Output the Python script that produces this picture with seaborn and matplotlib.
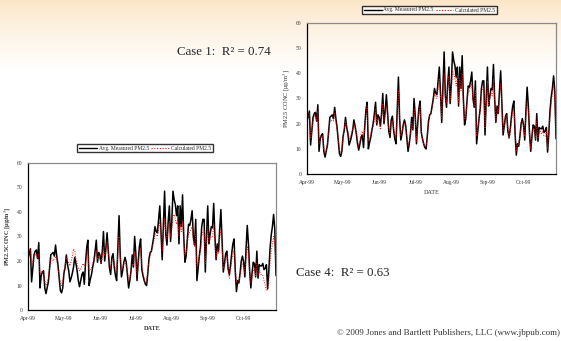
"""
Measured vs calculated PM2.5, two model cases, Apr-Oct 1999.
"""
import numpy as np
import pandas as pd
import matplotlib
matplotlib.use("Agg")
import matplotlib.pyplot as plt
import seaborn as sns
from matplotlib.lines import Line2D

sns.set_theme(style="white")
plt.rcParams["font.family"] = ["Liberation Serif", "DejaVu Serif"]
plt.rcParams["mathtext.fontset"] = "stix"

MONTH_LABELS = ["Apr-99", "May-99", "Jun-99", "Jul-99", "Aug-99", "Sep-99", "Oct-99"]
MONTH_DAYS = [0, 30, 60, 90, 120, 150, 180]
Y_TICKS = [0, 10, 20, 30, 40, 50, 60]
LEGEND_LABELS = ["Avg. Measured PM2.5", "Calculated PM2.5"]

# daily averages, day 0 = 1 Apr 1999
measured = [
    21, 23, 25, 11.5, 17, 22.5, 24, 24.5, 21, 27.5,
    9, 14, 15.5, 16, 9, 6.7, 9, 11.5, 17, 22.5,
    23, 23.5, 22, 26.5, 22, 18.5, 13, 8, 7, 9,
    15, 17.5, 22.5, 18.5, 16, 11.5, 13, 15, 17.5, 21.5,
    19, 16, 12, 9.5, 12, 14.5, 15.5, 10.5, 19, 25.5,
    28.5, 10, 12.5, 14.5, 17.5, 20, 24, 28.5, 19.5, 23.5,
    22.5, 19, 24, 32, 20, 25, 31.5, 24, 17, 14.5,
    21.5, 23, 17.5, 14, 12, 25, 38.5, 22, 13.5, 16,
    19.5, 21.5, 19.5, 14, 9, 12, 16, 22.5, 17.5, 30,
    23, 12, 20, 26, 29, 16.5, 14, 12, 10.5, 10,
    15, 21, 23.5, 24, 27, 30, 34, 32, 31.5, 37,
    42.5, 32, 20.5, 35, 48.5, 31, 26.5, 36, 42.5, 28,
    36, 48.5, 45, 43, 38.5, 42.5, 27, 42.5, 34, 47,
    30, 19.5, 22, 29, 35, 34.5, 37, 40.5, 30, 26.5,
    37, 12, 17, 22, 26, 34, 37, 37, 15.5, 30,
    42.5, 27, 31, 34, 33.5, 43.5, 30, 20.5, 27, 24,
    33, 41, 28, 15.5, 19, 23, 24, 17, 14.5, 18,
    23, 27, 29, 16, 7.5, 12, 11, 15, 20, 22,
    19.5, 13.5, 25, 34.5, 27, 16, 9, 15, 19.5, 19,
    13.5, 24, 13, 18.5, 18, 18, 19, 16.5, 17, 18.5,
    8.7, 16, 25, 30.5, 34, 39, 33, 14,
]

calc_case1 = [
    22, 23, 24, 14, 17, 21, 23, 23, 21, 25,
    12, 14, 15, 15, 10, 8, 9.5, 12, 16, 21,
    21.5, 21, 21, 24, 21, 18, 14, 9.5, 8.5, 10,
    15, 18, 21, 19, 17, 14, 15, 16, 18, 20,
    18, 17, 13, 11, 13, 16, 17, 14, 18, 24,
    27, 13, 14, 16, 18, 19, 21, 26, 20, 22,
    21, 18, 22, 28, 21, 24, 27, 23, 18, 16,
    20, 21, 18, 15, 14, 24, 33, 22, 15, 17,
    19, 20, 18, 15, 11, 13, 16, 20, 18, 26,
    22, 13, 19, 25, 27, 17, 14, 12, 11, 11,
    15, 20, 23, 24, 26, 29, 32, 31, 30, 34,
    38, 31, 22, 33, 40, 31, 28, 34, 39, 29,
    34, 41, 40, 38, 35, 39, 28, 38, 33, 40,
    28, 22, 23, 28, 33, 33, 35, 36, 29, 27,
    33, 15, 18, 22, 25, 32, 34, 34, 18, 28,
    37, 27, 30, 32, 31, 38, 29, 21, 26, 24,
    31, 36, 27, 17, 19, 22, 23, 18, 14, 17,
    21, 25, 26, 17, 9, 12, 11.5, 15, 19, 21,
    19, 15, 23, 29, 25, 16, 10, 14, 18, 18,
    14, 21, 14, 17, 17, 16, 17, 15, 15, 17,
    10, 16, 23, 28, 32, 36, 29, 17,
]

calc_case4 = [
    23, 24, 25, 18, 20, 22, 23, 22, 21, 23,
    15, 15, 16, 15, 12, 10, 11, 13, 17, 20,
    21, 20, 21, 22, 20, 17, 14, 11, 10, 12,
    16, 18, 21, 20, 19, 18, 20, 22, 25, 24,
    21, 19, 17, 16, 17, 18, 19, 18, 19, 22,
    25, 16, 16, 17, 19, 20, 22, 24, 21, 22,
    21, 19, 22, 26, 22, 24, 28, 24, 19, 17,
    20, 21, 19, 17, 16, 23, 30, 22, 16, 17,
    19, 20, 18, 16, 12, 13, 16, 19, 18, 24,
    21, 14, 18, 23, 25, 18, 15, 13, 11, 12,
    16, 20, 22, 24, 26, 28, 31, 31, 30, 33,
    36, 31, 24, 31, 37, 32, 29, 33, 36, 30,
    33, 38, 39, 37, 35, 37, 30, 35, 32, 36,
    28, 22, 23, 27, 31, 32, 33, 34, 28, 26,
    31, 17, 19, 22, 24, 30, 32, 32, 19, 27,
    34, 27, 29, 30, 30, 35, 28, 21, 25, 23,
    29, 33, 26, 17, 18, 21, 22, 17, 13, 16,
    20, 23, 24, 17, 11, 12, 12, 14, 17, 19,
    18, 15, 21, 26, 23, 15, 11, 13, 16, 17,
    14, 19, 14, 16, 15, 14, 14, 12, 10, 8,
    8, 12, 19, 24, 27, 30, 27, 19,
]

df = pd.DataFrame({
    "day": np.arange(len(measured)),
    "measured": measured,
    "case1": calc_case1,
    "case4": calc_case4,
})

W, H = 561, 341
fig = plt.figure(figsize=(W / 100, H / 100), dpi=100)

# slide background: peach band at the top fading to white
bg = fig.add_axes([0, 0, 1, 1], zorder=-10)
rows = np.clip(np.arange(H) / 70.0, 0, 1)[:, None, None]
top = np.array([0.99, 0.90, 0.78])
bg.imshow(top + (1 - top) * rows ** 0.8 * np.ones((1, 2, 3)), aspect="auto",
          extent=[0, 1, 0, 1])
bg.axis("off")


def px_rect(x0, y0, x1, y1):
    return [x0 / W, 1 - y1 / H, (x1 - x0) / W, (y1 - y0) / H]


def draw_panel(rect, calc_col, bold, legend_center):
    ax = fig.add_axes(rect)
    ax.set_facecolor("none")
    sns.lineplot(data=df, x="day", y="measured", ax=ax, color="black", lw=1.1)
    sns.lineplot(data=df, x="day", y=calc_col, ax=ax, color="red", lw=0.7,
                 linestyle=(0, (1, 1.5)))
    ax.set_xlim(0, len(measured) - 1)
    ax.set_ylim(0, 60)
    ax.set_xticks(MONTH_DAYS)
    ax.set_xticklabels(MONTH_LABELS)
    ax.set_yticks(Y_TICKS)
    ax.tick_params(direction="out", length=2, width=0.6, labelsize=4,
                   colors="#333333", pad=2)
    weight = "bold" if bold else "normal"
    ax.set_xlabel("DATE", fontsize=4.5, fontweight=weight, color="#333333", labelpad=4)
    ylab = "PM2.5CONC [μg/m$^3$]" if bold else "PM2.5 CONC [μg/m$^3$]"
    ax.set_ylabel(ylab, fontsize=4.5, fontweight=weight, color="#333333", labelpad=3)
    for side in ["left", "bottom"]:
        ax.spines[side].set_color("black")
        ax.spines[side].set_linewidth(0.9)
    for side in ["top", "right"]:
        ax.spines[side].set_color("#8a8a8a")
        ax.spines[side].set_linewidth(0.9)

    handles = [Line2D([], [], color="black", lw=1.0),
               Line2D([], [], color="red", lw=0.8, linestyle=(0, (1, 1.5)))]
    leg = fig.legend(handles, LEGEND_LABELS, loc="center",
                     bbox_to_anchor=legend_center, ncol=2, fontsize=4,
                     frameon=True, fancybox=False, handlelength=3.2,
                     handletextpad=0.3, columnspacing=0.4, borderpad=0.35,
                     borderaxespad=0)
    leg.get_frame().set_edgecolor("black")
    leg.get_frame().set_linewidth(1.0)
    leg.get_frame().set_facecolor("white")
    return ax


draw_panel(px_rect(307, 23, 556, 174), "case1", False, (429.5 / W, 1 - 10 / H))
draw_panel(px_rect(28, 163, 276, 310), "case4", True, (145 / W, 1 - 148 / H))

fig.text(177 / W, 1 - 52 / H, "Case 1:  R² = 0.74", fontsize=9.3, va="center")
fig.text(296 / W, 1 - 273 / H, "Case 4:  R² = 0.63", fontsize=9.3, va="center")
fig.text(560 / W, 1 - 333 / H,
         "© 2009 Jones and Bartlett Publishers, LLC (www.jbpub.com)",
         fontsize=6.5, ha="right", va="center", color="#333333")

fig.savefig("out.png", dpi=100)
plt.close(fig)
